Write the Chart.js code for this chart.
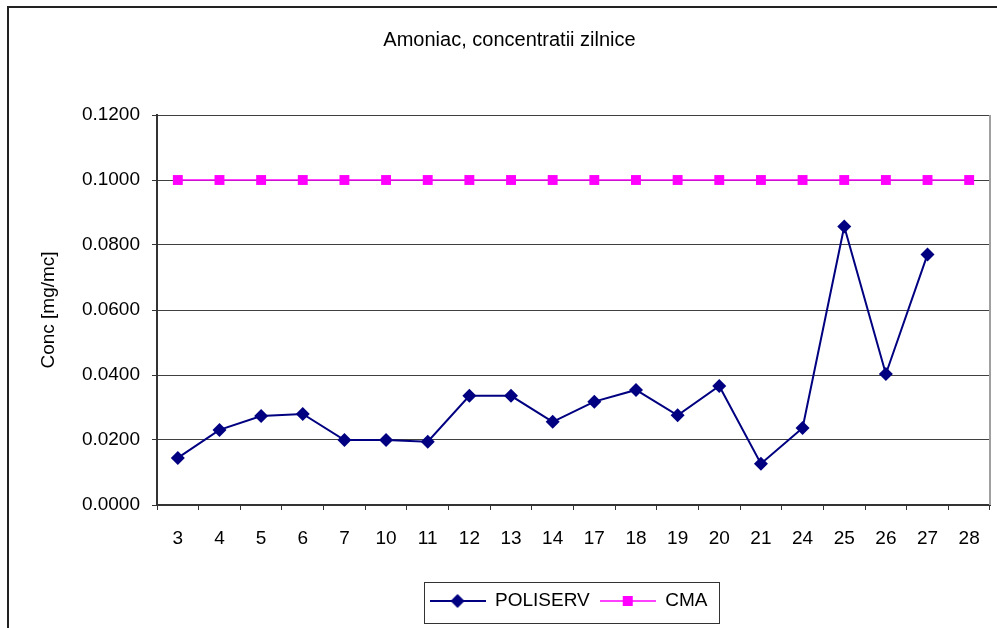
<!DOCTYPE html>
<html>
<head>
<meta charset="utf-8">
<script src="https://cdn.jsdelivr.net/npm/chart.js@4.4.0/dist/chart.umd.min.js"></script>
<style>
  html, body { margin: 0; padding: 0; background: #fff; }
  canvas { display: block; }
</style>
</head>
<body>
<canvas id="myChart" width="997" height="628"></canvas>
<script>
//Amoniac, concentratii zilnice.....................
var days = ['3', '4', '5', '6', '7', '10', '11', '12', '13', '14', '17', '18', '19', '20', '21', '24', '25', '26', '27', '28'];
var poliservValues = [0.0145, 0.0231, 0.0274, 0.0280, 0.0200, 0.0200, 0.0195, 0.0336, 0.0336, 0.0256,
                      0.0318, 0.0354, 0.0276, 0.0366, 0.0127, 0.0237, 0.0857, 0.0403, 0.0771, null];
var cmaValues = [0.1, 0.1, 0.1, 0.1, 0.1, 0.1, 0.1, 0.1, 0.1, 0.1,
                 0.1, 0.1, 0.1, 0.1, 0.1, 0.1, 0.1, 0.1, 0.1, 0.1];
var yTicks = [0, 0.02, 0.04, 0.06, 0.08, 0.10, 0.12];

var navy = '#000080';
var magenta = '#FF00FF';
var fontFamily = "'Liberation Sans', Arial, sans-serif";

Chart.defaults.font.family = fontFamily;
Chart.defaults.color = '#000';

// legend icons: line with the marker in the middle (like excel)
function makeIcon(color, shape, lineWidth) {
  var c = document.createElement('canvas');
  c.width = 56;
  c.height = 16;
  var g = c.getContext('2d');
  g.strokeStyle = color;
  g.lineWidth = lineWidth;
  g.beginPath();
  g.moveTo(0, 8);
  g.lineTo(56, 8);
  g.stroke();
  g.fillStyle = color;
  g.beginPath();
  if (shape === 'diamond') {
    g.moveTo(28, 1);
    g.lineTo(35, 8);
    g.lineTo(28, 15);
    g.lineTo(21, 8);
    g.closePath();
  } else {
    g.rect(23, 3, 10, 10);
  }
  g.fill();
  return c;
}
var legendIcons = [makeIcon(navy, 'diamond', 2), makeIcon(magenta, 'square', 1.5)];

var sheetPlugin = {
  id: 'sheet',
  afterLayout: function (chart) {
    // title and legend sit a bit right of centre in the original
    chart.titleBlock.left += 14;
    chart.titleBlock.right += 14;
    chart.legend.left += 73;
    chart.legend.right += 73;
  },
  beforeDraw: function (chart) {
    var ctx = chart.ctx;
    ctx.save();
    ctx.strokeStyle = '#222';
    ctx.lineWidth = 2;
    ctx.beginPath();
    ctx.moveTo(8, chart.height + 4);
    ctx.lineTo(8, 7);
    ctx.lineTo(chart.width + 4, 7);
    ctx.stroke();
    ctx.restore();
  },
  afterDraw: function (chart) {
    var ctx = chart.ctx;
    var area = chart.chartArea;
    var lg = chart.legend;
    ctx.save();
    // right edge of plot area
    ctx.strokeStyle = '#a0a0a0';
    ctx.lineWidth = 2;
    ctx.beginPath();
    ctx.moveTo(area.right, area.top);
    ctx.lineTo(area.right, area.bottom);
    ctx.stroke();
    // legend frame
    var pad = lg.options.labels.padding;
    var lw = lg.lineWidths[0];
    var x0 = (lg.left + pad + lg.right - lw) / 2;
    ctx.strokeStyle = '#333';
    ctx.lineWidth = 1;
    ctx.strokeRect(Math.round(x0 - 6) + 0.5, Math.round(lg.top) + 0.5, Math.round(lw - pad + 17), 41);
    ctx.restore();
  }
};

new Chart("myChart", {
  type: 'line',
  data: {
    labels: days,
    datasets: [{
      label: 'POLISERV',
      data: poliservValues,
      borderColor: navy,
      backgroundColor: navy,
      borderWidth: 2,
      pointStyle: 'rectRot',
      pointRadius: 7,
      pointBorderWidth: 0,
      tension: 0
    }, {
      label: 'CMA',
      data: cmaValues,
      borderColor: magenta,
      backgroundColor: magenta,
      borderWidth: 1.5,
      pointStyle: 'rect',
      pointRadius: 7,
      pointBorderWidth: 0,
      tension: 0
    }]
  },
  options: {
    responsive: false,
    animation: false,
    devicePixelRatio: 1,
    layout: {
      padding: { left: 0, top: 0, right: 6, bottom: 7.5 }
    },
    scales: {
      x: {
        offset: true,
        grid: {
          offset: true,
          drawOnChartArea: false,
          drawTicks: true,
          tickLength: 5,
          tickColor: '#333'
        },
        border: { color: '#333', width: 2 },
        ticks: {
          font: { size: 19 },
          color: '#000',
          padding: 17,
          maxRotation: 0,
          autoSkip: false
        },
        afterFit: function (scale) {
          scale.height = 76.5;
        }
      },
      y: {
        min: 0,
        max: 0.12,
        afterBuildTicks: function (axis) {
          axis.ticks = yTicks.map(function (v) { return { value: v }; });
        },
        grid: {
          color: '#404040',
          lineWidth: 1,
          tickLength: 5,
          tickColor: '#333'
        },
        border: { color: '#333', width: 2 },
        ticks: {
          font: { size: 19 },
          color: '#000',
          padding: 12,
          callback: function (value) {
            return Number(value).toFixed(4);
          }
        },
        title: {
          display: true,
          text: 'Conc [mg/mc]',
          font: { size: 19 },
          color: '#000',
          padding: { top: 37, bottom: 0 }
        },
        afterFit: function (scale) {
          scale.width = 157;
        }
      }
    },
    plugins: {
      title: {
        display: true,
        text: 'Amoniac, concentratii zilnice',
        font: { size: 20, weight: 'normal' },
        color: '#000',
        padding: { top: 28, bottom: 63 }
      },
      legend: {
        position: 'bottom',
        labels: {
          usePointStyle: true,
          pointStyleWidth: 56,
          padding: 10,
          font: { size: 19 },
          color: '#000',
          generateLabels: function (chart) {
            var items = Chart.defaults.plugins.legend.labels.generateLabels(chart);
            items.forEach(function (item, i) {
              item.pointStyle = legendIcons[i];
              item.lineWidth = 0;
            });
            return items;
          }
        }
      },
      tooltip: { enabled: false }
    }
  },
  plugins: [sheetPlugin]
});
</script>
</body>
</html>
